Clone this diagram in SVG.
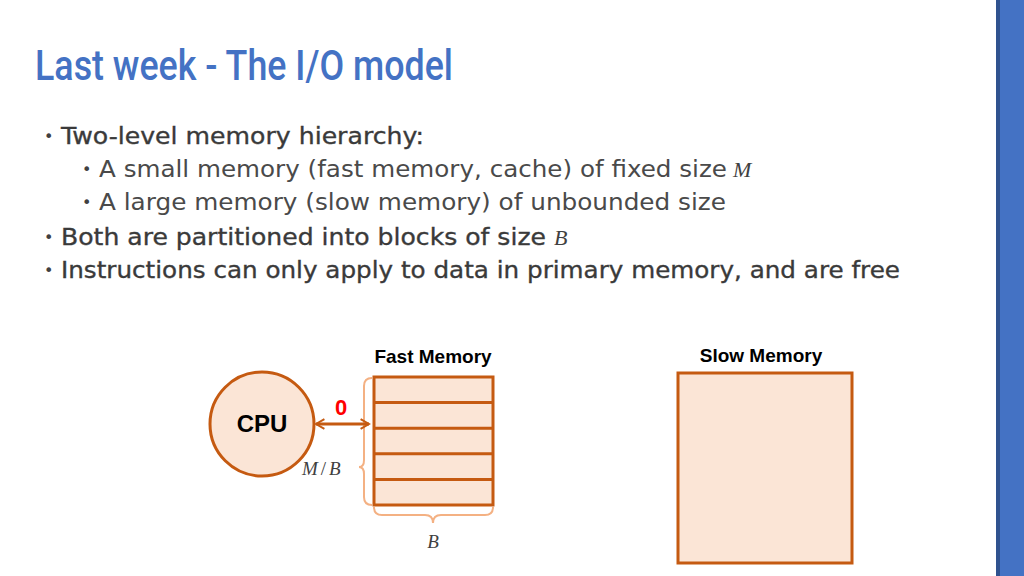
<svg xmlns="http://www.w3.org/2000/svg" width="1024" height="576" viewBox="0 0 1024 576">
<defs>
<style>
.title{font-family:Roboto,"Liberation Sans",sans-serif;font-weight:500;font-size:42px;fill:#4472C4}
.b{font-family:"DejaVu Sans",sans-serif;font-size:23px;fill:#4a4a4a}
.main{fill:#3a3a3a;stroke:#3a3a3a;stroke-width:0.35}
.dot{font-family:"DejaVu Sans",sans-serif;font-size:16px;fill:#404040}
.m{font-family:"Liberation Serif",serif;font-style:italic;fill:#404040;stroke:none}
.lbl{font-family:"Liberation Sans",Arial,sans-serif;font-weight:bold;fill:#000}
.node{fill:#FBE5D6;stroke:#C55A11;stroke-width:3}
.brace{fill:none;stroke:#F4B183;stroke-width:2}
</style>
<marker id="ah" viewBox="0 0 10 10" refX="8" refY="5" markerWidth="4" markerHeight="4" orient="auto-start-reverse" markerUnits="strokeWidth">
<path d="M1,1 L8,5 L1,9" fill="none" stroke="#C55A11" stroke-width="1.6"/>
</marker>
</defs>
<rect width="1024" height="576" fill="#fff"/>
<rect x="996" y="0" width="28" height="576" fill="#4472C4"/>
<rect x="996" y="0" width="4" height="576" fill="#2F528F"/>
<text class="title" x="35" y="80" textLength="418" lengthAdjust="spacingAndGlyphs">Last week - The I/O model</text>
<g id="bullets">
<text class="dot" x="44" y="142">•</text>
<text class="b main" x="61" y="144" textLength="363" lengthAdjust="spacingAndGlyphs">Two-level memory hierarchy:</text>
<text class="dot" x="82" y="175">•</text>
<text class="b" x="99" y="177"><tspan textLength="628" lengthAdjust="spacingAndGlyphs">A small memory (fast memory, cache) of fixed size</tspan><tspan class="m" x="733" font-size="22">M</tspan></text>
<text class="dot" x="82" y="208">•</text>
<text class="b" x="99" y="210" textLength="627" lengthAdjust="spacingAndGlyphs">A large memory (slow memory) of unbounded size</text>
<text class="dot" x="44" y="243">•</text>
<text class="b main" x="61" y="245"><tspan textLength="485" lengthAdjust="spacingAndGlyphs">Both are partitioned into blocks of size</tspan><tspan class="m" x="554" font-size="22">B</tspan></text>
<text class="dot" x="44" y="276">•</text>
<text class="b main" x="61" y="278" textLength="839" lengthAdjust="spacingAndGlyphs">Instructions can only apply to data in primary memory, and are free</text>
</g>
<g id="cpu">
<circle class="node" cx="262" cy="424" r="52"/>
<text class="lbl" x="262" y="432" font-size="24" text-anchor="middle">CPU</text>
</g>
<g id="fast-memory">
<text class="lbl" x="433" y="363" font-size="19" text-anchor="middle">Fast Memory</text>
<rect class="node" x="374" y="377" width="119" height="128"/>
<path d="M374,402.6 H493 M374,428.2 H493 M374,453.8 H493 M374,479.4 H493" stroke="#C55A11" stroke-width="3" fill="none"/>
<path class="brace" d="M372,378 Q364,378 364,386 V460 Q364,467 359,467 Q364,467 364,474 V497 Q364,505 372,505"/>
<path class="brace" d="M374,507 Q374,515 382,515 H425 Q433,515 433,523 Q433,515 441,515 H485 Q493,515 493,507"/>
<text class="m" x="302" y="475" font-size="19">M<tspan font-style="normal" dx="3">/</tspan><tspan dx="3">B</tspan></text>
<text class="m" x="433" y="548" font-size="19" text-anchor="middle">B</text>
</g>
<g id="slow-memory">
<text class="lbl" x="761" y="362" font-size="19" text-anchor="middle">Slow Memory</text>
<rect class="node" x="678" y="373" width="174" height="190"/>
</g>
<g id="connectors">
<line x1="316" y1="424" x2="369" y2="424" stroke="#C55A11" stroke-width="3" marker-start="url(#ah)" marker-end="url(#ah)"/>
<text x="341" y="415" font-family="Liberation Sans,Arial,sans-serif" font-weight="bold" font-size="22" fill="#FF0000" text-anchor="middle">0</text>
</g>
</svg>
